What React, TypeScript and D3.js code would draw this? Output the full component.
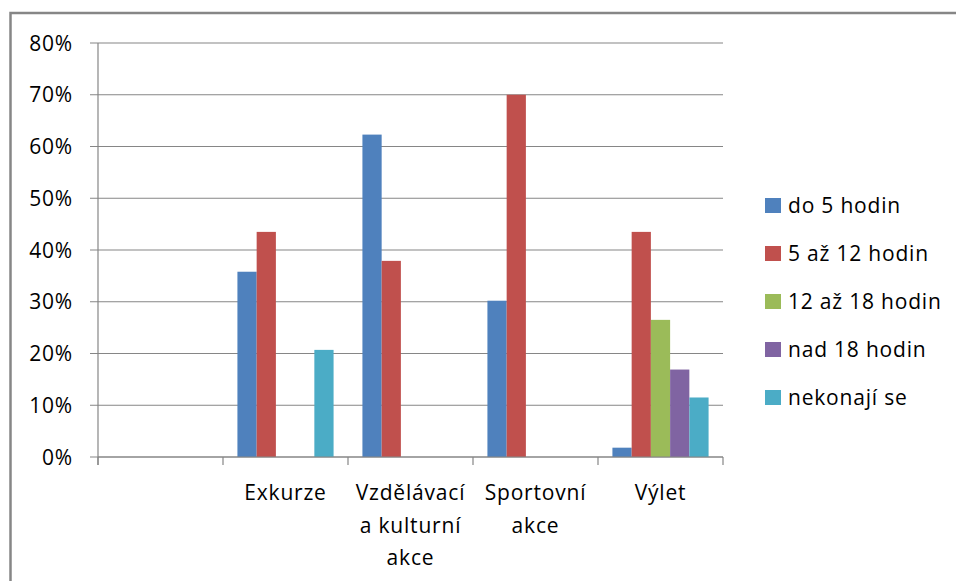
import React from "react";
import * as d3 from "d3";

const categories = ["", "Exkurze", "Vzdělávací a kulturní akce", "Sportovní akce", "Výlet"];
const seriesNames = ["do 5 hodin", "5 až 12 hodin", "12 až 18 hodin", "nad 18 hodin", "nekonají se"];
const seriesColors = ["#4F81BD", "#C0504D", "#9BBB59", "#8064A2", "#4BACC6"];
const do5 = [0, 0.358, 0.623, 0.302, 0.018];
const od5do12 = [0, 0.435, 0.379, 0.70, 0.435];
const od12do18 = [0, 0, 0, 0, 0.265];
const nad18 = [0, 0, 0, 0, 0.169];
const nekonaji = [0, 0.207, 0, 0, 0.115];
const seriesValues = [do5, od5do12, od12do18, nad18, nekonaji];
const yTicks = [0, 0.1, 0.2, 0.3, 0.4, 0.5, 0.6, 0.7, 0.8];

const FONT = "'Open Sans', sans-serif";
const FS = 21;
const LS = 0.8;
const GRAY = "#868686";

function wrap(text: string, maxW: number): string[] {
  if (!text) return [];
  const c = document.createElement("canvas").getContext("2d")!;
  c.font = `${FS}px ${FONT}`;
  const measure = (s: string) => c.measureText(s).width + s.length * LS;
  const words = text.split(" ");
  const lines: string[] = [];
  let cur = "";
  for (const w of words) {
    const t = cur ? cur + " " + w : w;
    if (cur && measure(t) > maxW) {
      lines.push(cur);
      cur = w;
    } else cur = t;
  }
  if (cur) lines.push(cur);
  return lines;
}

export default function App() {
  const x = d3.scaleBand<string>().domain(categories.map((c, i) => String(i))).range([98, 723]).paddingInner(0).paddingOuter(0);
  const xs = d3.scaleBand<string>().domain(seriesNames).range([0, x.bandwidth()]).paddingInner(0).paddingOuter(0.75);
  const y = d3.scaleLinear().domain([0, 0.8]).range([457, 43]);
  const fmt = d3.format(".0%");
  const bounds = categories.map((_, i) => x(String(i))!).concat([723]);

  return (
    <svg width={956} height={581} style={{ position: "absolute", left: 0, top: 0, background: "#fff" }} fontFamily={FONT} letterSpacing={LS}>
      <rect x={0} y={0} width={956} height={581} fill="#fff" />
      <path d="M10.5 600 V13 H970" fill="none" stroke={GRAY} strokeWidth={2.5} />
      {yTicks.map((t) => (
        <g key={t}>
          <line x1={90} x2={723} y1={y(t)} y2={y(t)} stroke={GRAY} strokeWidth={1.2} />
          <text x={73} y={y(t) + 7.5} textAnchor="end" fontSize={FS} fill="#000">{fmt(t)}</text>
        </g>
      ))}
      <line x1={98} x2={98} y1={43} y2={465} stroke={GRAY} strokeWidth={1.2} />
      {bounds.map((b, i) => (
        <line key={i} x1={b} x2={b} y1={457} y2={465} stroke={GRAY} strokeWidth={1.2} />
      ))}
      {seriesValues.map((vals, si) =>
        vals.map((v, ci) =>
          v > 0 ? (
            <rect key={si + "-" + ci} x={x(String(ci))! + xs(seriesNames[si])!} width={xs.bandwidth()} y={y(v)} height={y(0) - y(v)} fill={seriesColors[si]} />
          ) : null
        )
      )}
      <line x1={98} x2={723} y1={457} y2={457} stroke={GRAY} strokeWidth={1.2} />
      {categories.map((c, ci) => {
        const lines = wrap(c, 122);
        const cx = x(String(ci))! + x.bandwidth() / 2;
        return (
          <text key={ci} textAnchor="middle" fontSize={FS} fill="#000">
            {lines.map((l, li) => (
              <tspan key={li} x={cx} y={500 + li * 32.5}>{l}</tspan>
            ))}
          </text>
        );
      })}
      {seriesNames.map((s, si) => (
        <g key={s}>
          <rect x={765} y={198 + si * 48} width={16} height={15} fill={seriesColors[si]} />
          <text x={788} y={213 + si * 48} fontSize={FS} fill="#000">{s}</text>
        </g>
      ))}
    </svg>
  );
}
